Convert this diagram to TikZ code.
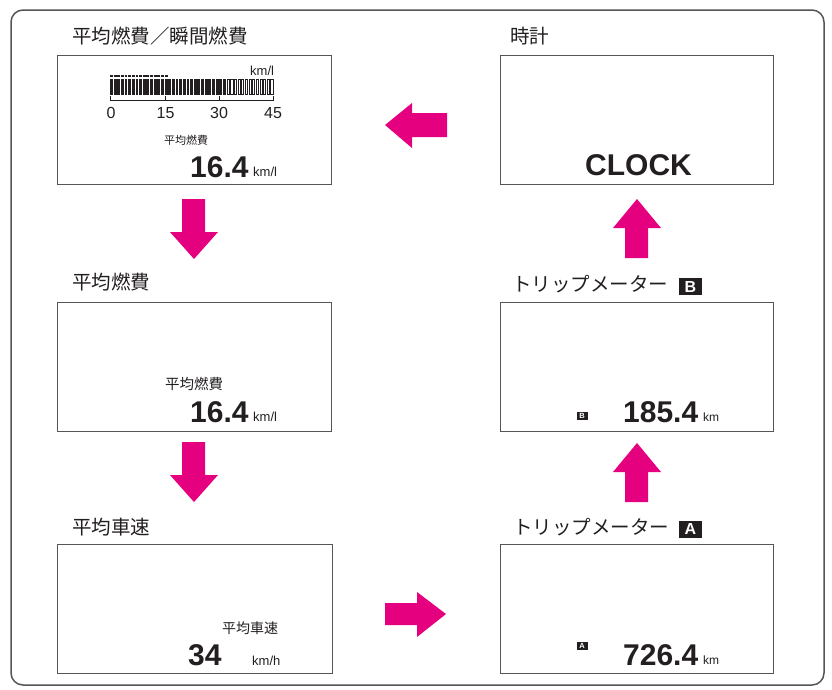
\documentclass[tikz,border=0pt]{standalone}
\usepackage{fontspec}
\setmainfont{Liberation Sans}
\newfontfamily\jp{Noto Sans CJK JP}
\definecolor{pinkarrow}{HTML}{E4007F}
\definecolor{txt}{HTML}{231F20}
\definecolor{framecol}{HTML}{555555}
\begin{document}
\begin{tikzpicture}[x=1pt,y=-1pt,
  panel/.style={draw=framecol, line width=1.4pt, anchor=north west, inner sep=0pt, minimum width=#1, minimum height=129pt},
  ttl/.style={font=\jp\fontsize{19.5}{20}\selectfont, text=txt, inner sep=0pt, anchor=west},
  bignum/.style={font=\bfseries\fontsize{30}{30}\selectfont, text=txt, inner sep=0pt, anchor=base west},
  unitlbl/.style={font=\fontsize{13}{13}\selectfont, text=txt, inner sep=0pt, anchor=base west},
  smalljp/.style={font=\jp\fontsize{#1}{#1}\selectfont, text=txt, inner sep=0pt, anchor=west},
  scalelbl/.style={font=\fontsize{16}{16}\selectfont, text=txt, inner sep=0pt, anchor=base},
  bigtag/.style={fill=txt, text=white, font=\bfseries\fontsize{16}{16}\selectfont, inner sep=0pt, minimum width=23pt, minimum height=17pt},
  smalltag/.style={fill=txt, text=white, font=\bfseries\fontsize{7.5}{7.5}\selectfont, inner sep=0pt, minimum width=11pt, minimum height=8.5pt},
  blockarrow/.style={fill=pinkarrow}
]
\useasboundingbox (0,0) rectangle (832,689);
\draw[framecol, line width=1.5pt, rounded corners=12pt] (11,10) rectangle (824,685);

% panels
\node[panel=274pt] (p1) at (57,55) {};
\node[panel=273pt] (p2) at (500,55) {};
\node[panel=274pt] (p3) at (57,302) {};
\node[panel=273pt] (p4) at (500,302) {};
\node[panel=275pt] (p5) at (57,544) {};
\node[panel=273pt] (p6) at (500,544) {};

% titles
\node[ttl] (t1) at (72,36) {平均燃費／瞬間燃費};
\node[ttl] (t2) at (510,36) {時計};
\node[ttl] (t3) at (72,282) {平均燃費};
\node[ttl] (t4) at (512,284) {トリップメーター};
\node[bigtag] (tagB) at (690.5,286.5) {B};
\node[ttl] (t5) at (72,527) {平均車速};
\node[ttl] (t6) at (513,527) {トリップメーター};
\node[bigtag] (tagA) at (690.5,529) {A};

% panel 1 : bar graph
\node[unitlbl] (u0) at (250,75) {km/l};
\foreach \i in {0,...,31} \fill[txt] ({110+\i*3.644},79) rectangle +(2.9,16);
\foreach \i in {32,...,44} \draw[txt, line width=0.6pt] ({110.4+\i*3.644},79.3) rectangle +(2.2,15.4);
\foreach \i in {0,...,15} \fill[txt] ({110+\i*3.644},74.5) rectangle +(2.9,2.3);
\draw[txt, line width=0.8pt] (110.5,96) -- (110.5,100) -- (273,100) -- (273,96);
\draw[txt, line width=0.8pt] (165,96) -- (165,100);
\draw[txt, line width=0.8pt] (219.5,96) -- (219.5,100);
\node[scalelbl] (s0) at (111,118) {0};
\node[scalelbl] (s15) at (165.5,118) {15};
\node[scalelbl] (s30) at (219,118) {30};
\node[scalelbl] (s45) at (273,118) {45};
\node[smalljp=11] (l1) at (164,140) {平均燃費};
\node[bignum] (n1) at (190,177) {16.4};
\node[unitlbl] (u1) at (253,176) {km/l};

% panel 2
\node[bignum] (clk) at (585,175) {CLOCK};

% panel 3
\node[smalljp=14.5] (l3) at (165,384) {平均燃費};
\node[bignum] (n3) at (190,422) {16.4};
\node[unitlbl] (u3) at (253,421) {km/l};

% panel 4
\node[smalltag] (sB) at (582,416) {B};
\node[bignum] (n4) at (623,422) {185.4};
\node[unitlbl, font=\fontsize{12}{12}\selectfont] (u4) at (703,421) {km};

% panel 5
\node[smalljp=14] (l5) at (222,628) {平均車速};
\node[bignum] (n5) at (188,665) {34};
\node[unitlbl] (u5) at (252,665) {km/h};

% panel 6
\node[smalltag] (sA) at (582,646) {A};
\node[bignum] (n6) at (623,665) {726.4};
\node[unitlbl, font=\fontsize{12}{12}\selectfont] (u6) at (703,664) {km};

% block arrows
\fill[blockarrow] (385,125) -- (412,103) -- (412,113) -- (447,113) -- (447,137) -- (412,137) -- (412,148) -- cycle;
\fill[blockarrow] (182,199) -- (205,199) -- (205,232) -- (218,232) -- (194,259) -- (170,232) -- (182,232) -- cycle;
\fill[blockarrow] (182,442) -- (205,442) -- (205,475) -- (218,475) -- (194,502) -- (170,475) -- (182,475) -- cycle;
\fill[blockarrow] (385,603) -- (417,603) -- (417,592) -- (446,614) -- (417,637) -- (417,625) -- (385,625) -- cycle;
\fill[blockarrow] (637,199) -- (661,228) -- (648,228) -- (648,258) -- (625,258) -- (625,228) -- (613,228) -- cycle;
\fill[blockarrow] (637,443) -- (661,472) -- (648,472) -- (648,502) -- (625,502) -- (625,472) -- (613,472) -- cycle;
\end{tikzpicture}
\end{document}
